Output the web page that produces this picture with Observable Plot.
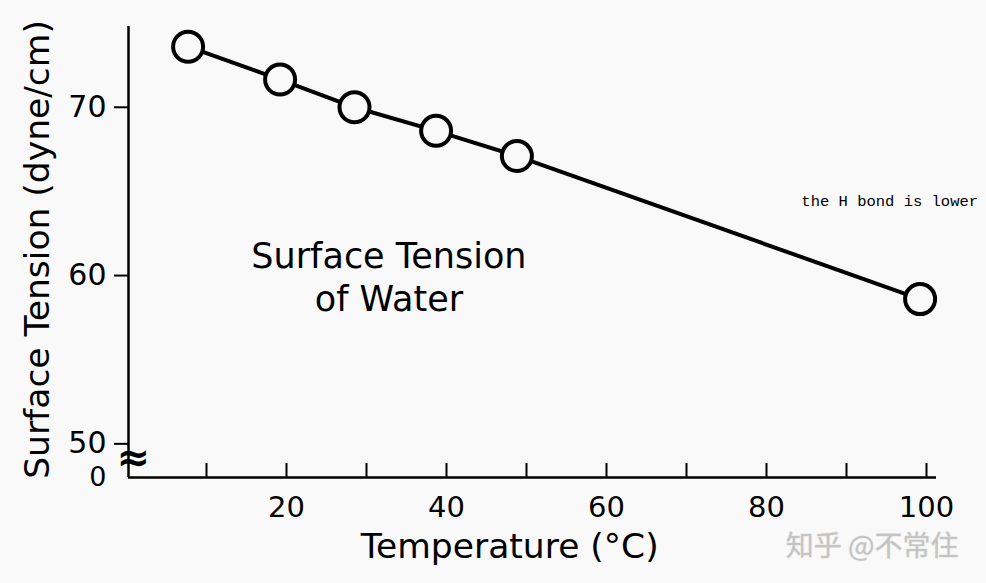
<!DOCTYPE html>
<html>
<head>
<meta charset="utf-8">
<script src="https://cdn.jsdelivr.net/npm/d3@7"></script>
<script src="https://cdn.jsdelivr.net/npm/@observablehq/plot@0.6"></script>
<style>
  html, body { margin: 0; padding: 0; background: #f9f9f9; }
  #chart svg { display: block; background: #f9f9f9; }
</style>
</head>
<body>
<div id="chart"></div>
<script>
// Data
const temperature = [7.7, 19.2, 28.5, 38.7, 48.8, 99.2];
const surfaceTension = [73.6, 71.65, 70.0, 68.6, 67.1, 58.6];

// Tick values and labels
const xMinorTicks = [10, 20, 30, 40, 50, 60, 70, 80, 90, 100];
const xTickLabels = [20, 40, 60, 80, 100];
const yTickLabels = [50, 60, 70];
const yBreakLabel = ["0"];

// Texts
const xTitle = ["Temperature (°C)"];
const yTitle = ["Surface Tension (dyne/cm)"];
const innerTitle = ["Surface Tension\nof Water"];
const sideNote = ["the H bond is lower"];
const watermark = ["知乎 @不常住"];

const data = temperature.map((t, i) => ({t, s: surfaceTension[i]}));

const yMin = 48;  // bottom of the broken axis (labelled 0)
const font = "DejaVu Sans, sans-serif";

const chart = Plot.plot({
  width: 986,
  height: 583,
  marginLeft: 128,
  marginRight: 50,
  marginTop: 26,
  marginBottom: 106,
  style: {background: "#f9f9f9", fontFamily: font, color: "#000"},
  x: {domain: [0.25, 101.25]},
  y: {domain: [yMin, 74.8]},
  marks: [
    // axis lines
    Plot.ruleX([0.25], {stroke: "#000", strokeWidth: 2.5}),
    Plot.ruleY([yMin], {stroke: "#000", strokeWidth: 2.5, x1: 0.25, x2: 101.25}),
    // x ticks pointing up (inside)
    Plot.ruleX(xMinorTicks, {x: d => d, stroke: "#000", strokeWidth: 2, insetTop: 437}),
    Plot.axisX(xTickLabels, {tickSize: 0, tickPadding: 19, fontSize: 29, label: null, tickFormat: d => d}),
    // y ticks
    Plot.axisY(yTickLabels, {tickSize: 14, tickPadding: 8, fontSize: 30, label: null, strokeWidth: 2, tickFormat: d => d}),
    Plot.axisY([yMin], {tickSize: 0, tickPadding: 22, fontSize: 27, label: null, tickFormat: (d, i) => yBreakLabel[i]}),
    // axis break symbol
    Plot.text(["≈"], {x: 0.25, y: 49.15, text: d => d, dx: 5, fontSize: 40, fontWeight: "bold", fill: "#000"}),
    // data line and circles
    Plot.line(data, {x: "t", y: "s", stroke: "#000", strokeWidth: 4}),
    Plot.dot(data, {x: "t", y: "s", r: 15, stroke: "#000", strokeWidth: 4, fill: "#f9f9f9"}),
    // titles
    Plot.text(xTitle, {x: 47.9, y: 43.9, text: d => d, fontSize: 34.5, fill: "#000"}),
    Plot.text(yTitle, {x: -11.1, y: 61.55, text: d => d, rotate: -90, fontSize: 34.5, fill: "#000"}),
    Plot.text(innerTitle, {x: 32.8, y: 60, text: d => d, fontSize: 35, lineHeight: 1.22, fill: "#000"}),
    Plot.text(sideNote, {x: 95.4, y: 64.4, text: d => d, fontSize: 15.5, fontFamily: "Liberation Mono, monospace", fill: "#000"}),
    Plot.text(watermark, {x: 93.2, y: 43.85, text: d => d, fontSize: 28, fontFamily: "Noto Sans CJK SC", fill: "#c4c4c4", stroke: "#e6e6e6", strokeWidth: 1})
  ]
});

document.getElementById("chart").append(chart);
</script>
</body>
</html>
